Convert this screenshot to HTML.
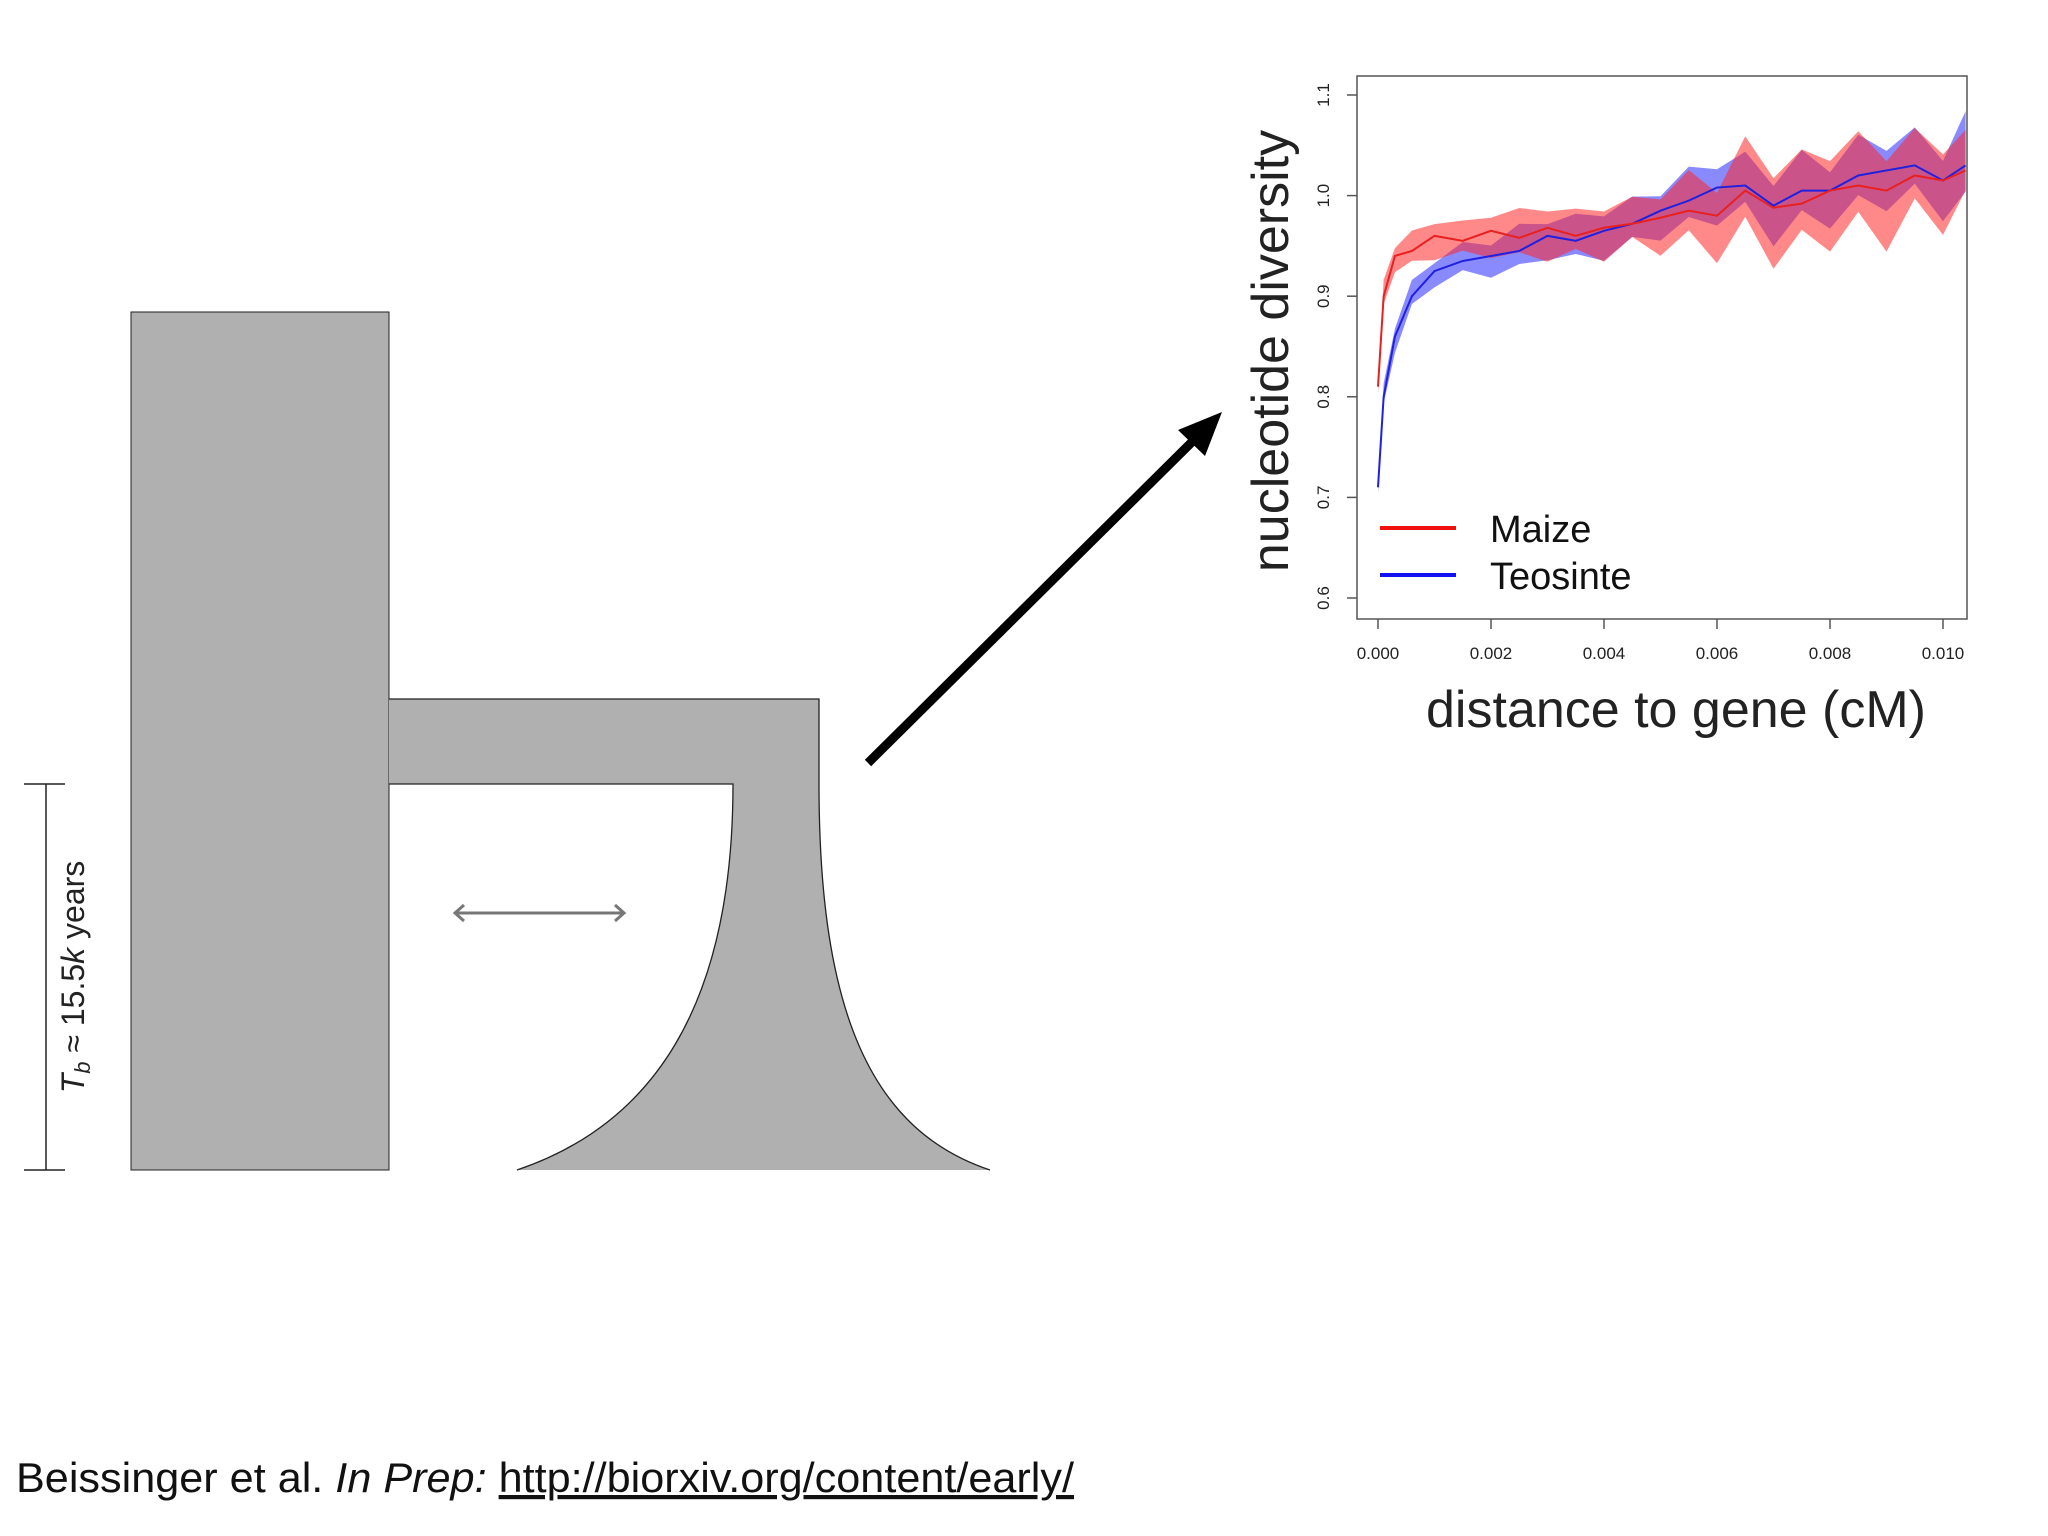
<!DOCTYPE html>
<html><head><meta charset="utf-8"><style>html,body{margin:0;padding:0;background:#fff}svg{display:block}</style></head>
<body>
<svg id="page" width="2048" height="1536" viewBox="0 0 2048 1536" xmlns="http://www.w3.org/2000/svg" font-family="Liberation Sans, sans-serif">
<rect width="2048" height="1536" fill="#fff"/>
<!-- Left demographic model -->
<g>
  <rect x="131" y="312" width="258" height="858" fill="#b0b0b0" stroke="#222" stroke-width="1"/>
  <path d="M389,699 L819,699 L819,784 C819,1010 870,1130 990,1170 L517,1170 C650,1125 733,1010 733,784 L389,784 Z" fill="#b0b0b0"/>
  <path d="M389,699 L819,699 L819,784 C819,1010 870,1130 990,1170 M517,1170 C650,1125 733,1010 733,784 L389,784" fill="none" stroke="#222" stroke-width="1.3"/>
  <g stroke="#777" stroke-width="3" fill="none">
    <line x1="455" y1="913" x2="624" y2="913"/>
    <polyline points="464,905 455,913 464,921"/>
    <polyline points="615,905 624,913 615,921"/>
  </g>
  <g stroke="#222" stroke-width="1.5">
    <line x1="46" y1="784" x2="46" y2="1170"/>
    <line x1="24" y1="784" x2="65" y2="784"/>
    <line x1="24" y1="1170" x2="65" y2="1170"/>
  </g>
  <text transform="translate(84,977) rotate(-90)" text-anchor="middle" font-size="32" fill="#222"><tspan font-style="italic">T</tspan><tspan font-style="italic" font-size="22" dy="6">b</tspan><tspan dy="-6"> ≈ 15.5</tspan><tspan font-style="italic">k</tspan><tspan> years</tspan></text>
</g>
<line x1="868" y1="763" x2="1200" y2="434" stroke="#000" stroke-width="9"/>
<polygon points="1222,412 1178,430 1205,456" fill="#000"/>
<text x="16" y="1492" font-size="42" fill="#111" textLength="1058" lengthAdjust="spacingAndGlyphs">Beissinger et al. <tspan font-style="italic">In Prep:</tspan> <tspan text-decoration="underline">http://biorxiv.org/content/early/</tspan></text>
<g id="chart"></g>
<script>
const xVals=[0,0.0001,0.0003,0.0006,0.001,0.0015,0.002,0.0025,0.003,0.0035,0.004,0.0045,0.005,0.0055,0.006,0.0065,0.007,0.0075,0.008,0.0085,0.009,0.0095,0.010,0.0104];
const maizeMean=[0.81,0.90,0.94,0.945,0.96,0.955,0.965,0.958,0.968,0.96,0.968,0.972,0.978,0.985,0.98,1.005,0.988,0.992,1.005,1.01,1.005,1.02,1.015,1.025];
const maizeHalf=[0.005,0.012,0.012,0.015,0.018,0.015,0.02,0.022,0.025,0.02,0.025,0.02,0.028,0.03,0.035,0.04,0.045,0.04,0.045,0.04,0.045,0.035,0.04,0.03];
const teoMean=[0.71,0.80,0.86,0.90,0.925,0.935,0.94,0.945,0.96,0.955,0.965,0.972,0.985,0.995,1.008,1.01,0.99,1.005,1.005,1.02,1.025,1.03,1.015,1.03];
const teoHalf=[0.004,0.01,0.012,0.012,0.012,0.014,0.016,0.02,0.018,0.02,0.022,0.02,0.022,0.025,0.028,0.025,0.03,0.03,0.028,0.03,0.03,0.028,0.03,0.04];
const yTicks=[0.6,0.7,0.8,0.9,1.0,1.1];
const yTickLabels=["0.6","0.7","0.8","0.9","1.0","1.1"];
const xTicks=[0,0.002,0.004,0.006,0.008,0.010];
const xTickLabels=["0.000","0.002","0.004","0.006","0.008","0.010"];
const NS="http://www.w3.org/2000/svg";
const g=document.getElementById('chart');
const X=v=>1378+(v-0)/0.010*(1943-1378);
const Y=v=>598-(v-0.6)/0.5*(598-95);
function el(t,a,p){const e=document.createElementNS(NS,t);for(const k in a)e.setAttribute(k,a[k]);(p||g).appendChild(e);return e;}
const frame=el('rect',{x:1357,y:76,width:610,height:543,fill:'none',stroke:'#555','stroke-width':1.5});


yTicks.forEach((t,i)=>{
  const l=el('line',{x1:1357,x2:1347,y1:Y(t),y2:Y(t),stroke:'#555','stroke-width':1.5});
  
  
  const tx=el('text',{transform:`translate(1329,${Y(t)}) rotate(-90)`,'text-anchor':'middle','font-size':17,fill:'#222'});
  tx.textContent=yTickLabels[i];
  
  
});
xTicks.forEach((t,i)=>{
  const l=el('line',{x1:X(t),x2:X(t),y1:619,y2:629,stroke:'#555','stroke-width':1.5});
  
  
  const tx=el('text',{x:X(t),y:659,'text-anchor':'middle','font-size':17,fill:'#222'});
  tx.textContent=xTickLabels[i];
  
  
});
function band(mean,half,fill,name){
  let up=[],lo=[];
  xVals.forEach((x,i)=>{
    const j=(i%2?1:-1)*half[i]*0.35;
    up.push(X(x)+','+Y(mean[i]+half[i]+j));
    lo.unshift(X(x)+','+Y(mean[i]-half[i]+j));
  });
  const p=el('polygon',{points:up.concat(lo).join(' '),fill:fill});
  
  
}
function line(mean,stroke,name){
  const p=el('polyline',{points:xVals.map((x,i)=>X(x)+','+Y(mean[i])).join(' '),fill:'none',stroke:stroke,'stroke-width':2});
  
  
}
band(teoMean,teoHalf,'rgba(60,60,255,0.6)','teosinte-band');
band(maizeMean,maizeHalf,'rgba(255,40,40,0.55)','maize-band');
line(teoMean,'#2020e0','teosinte-line');
line(maizeMean,'#e82020','maize-line');
const yl=el('text',{transform:'translate(1288,351) rotate(-90)','text-anchor':'middle','font-size':52,fill:'#222'});
yl.textContent='nucleotide diversity';


const xl=el('text',{x:1676,y:727,'text-anchor':'middle','font-size':52,fill:'#222'});
xl.textContent='distance to gene (cM)';


const l1=el('line',{x1:1380,x2:1456,y1:528,y2:528,stroke:'#f01010','stroke-width':4});


const t1=el('text',{x:1490,y:542,'font-size':38,fill:'#111'});
t1.textContent='Maize';


const l2=el('line',{x1:1380,x2:1456,y1:575,y2:575,stroke:'#1010f0','stroke-width':4});


const t2=el('text',{x:1490,y:589,'font-size':38,fill:'#111'});
t2.textContent='Teosinte';


</script>
</svg>
</body></html>
